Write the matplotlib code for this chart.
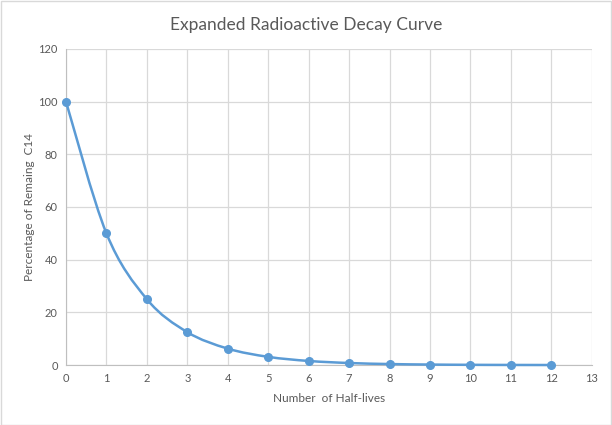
import matplotlib
matplotlib.use("Agg")
import matplotlib.pyplot as plt
from matplotlib.path import Path
from matplotlib.patches import PathPatch, Rectangle
import numpy as np

half_lives = [0, 1, 2, 3, 4, 5, 6, 7, 8, 9, 10, 11, 12]
percent_remaining = [100, 50, 25, 12.5, 6.25, 3.125, 1.5625, 0.78125, 0.390625,
                     0.1953125, 0.09765625, 0.048828125, 0.0244140625]
x_ticks = list(range(0, 14))
y_ticks = [0, 20, 40, 60, 80, 100, 120]

blue = "#5B9BD5"
text_col = "#595959"
grid_col = "#D9D9D9"

plt.rcParams['font.family'] = ['Lato', 'DejaVu Sans']

fig = plt.figure(figsize=(6.12, 4.25), dpi=100)
ax = fig.add_axes([0.1078, 0.141, 0.967 - 0.1078, 0.885 - 0.141])

# Smooth (Catmull-Rom style) curve through the points, as Bezier segments
xs = np.array(half_lives, dtype=float)
ys = np.array(percent_remaining, dtype=float)
verts = [(xs[0], ys[0])]
codes = [Path.MOVETO]
n = len(xs)
t = 1.0 / 6.0
for i in range(n - 1):
    p0 = (xs[i - 1], ys[i - 1]) if i > 0 else (xs[i], ys[i])
    p1 = (xs[i], ys[i])
    p2 = (xs[i + 1], ys[i + 1])
    p3 = (xs[i + 2], ys[i + 2]) if i + 2 < n else (xs[i + 1], ys[i + 1])
    c1 = (p1[0] + (p2[0] - p0[0]) * t, p1[1] + (p2[1] - p0[1]) * t)
    c2 = (p2[0] - (p3[0] - p1[0]) * t, p2[1] - (p3[1] - p1[1]) * t)
    verts += [c1, c2, p2]
    codes += [Path.CURVE4] * 3
ax.add_patch(PathPatch(Path(verts, codes), facecolor="none", edgecolor=blue,
                       lw=1.8, zorder=3, clip_on=False))
ax.plot(half_lives, percent_remaining, linestyle="none", marker="o",
        markersize=5.5, color=blue, zorder=4, clip_on=False)

ax.set_xlim(0, 13)
ax.set_ylim(0, 120)
ax.set_xticks(x_ticks)
ax.set_yticks(y_ticks)
ax.grid(True, color=grid_col, lw=0.9)
ax.set_axisbelow(True)
for s in ["top", "right"]:
    ax.spines[s].set_visible(False)
ax.spines["left"].set_color("#BFBFBF")
ax.spines["bottom"].set_color("#BFBFBF")
ax.tick_params(axis="both", length=0, colors=text_col, labelsize=8, pad=6)

ax.set_xlabel("Number  of Half-lives", color=text_col, fontsize=8.5, labelpad=6)
ax.set_ylabel("Percentage of Remaing  C14", color=text_col, fontsize=8.5, labelpad=2)
fig.text(0.5, 0.942, "Expanded Radioactive Decay Curve", ha="center", va="center",
         color=text_col, fontsize=12.5)

fig.patches.append(Rectangle((0.001, 0.001), 0.997, 0.997, transform=fig.transFigure,
                             fill=False, edgecolor="#D9D9D9", lw=1.0))

fig.savefig("out.png", dpi=100, facecolor="white")
